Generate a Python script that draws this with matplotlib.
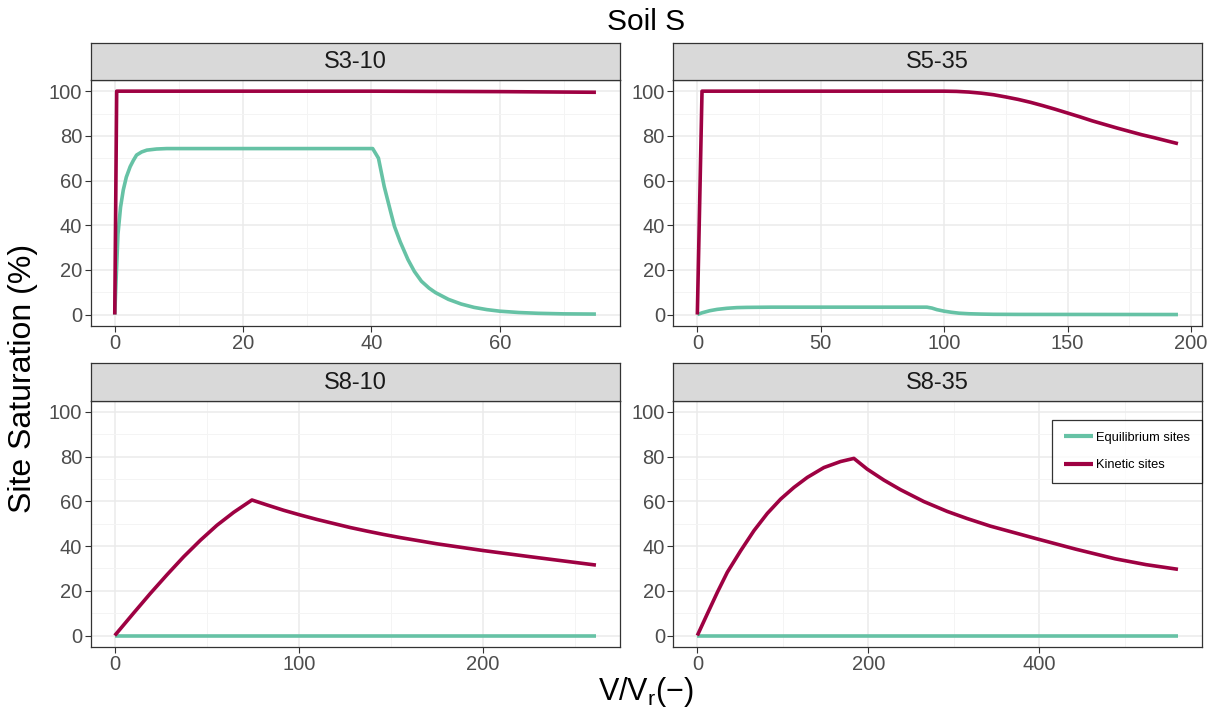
import matplotlib.pyplot as plt
from matplotlib.ticker import MultipleLocator

plt.rcParams['font.family'] = ['Liberation Sans', 'DejaVu Sans']
plt.rcParams['mathtext.fontset'] = 'custom'
plt.rcParams['mathtext.rm'] = 'Liberation Sans'

col_eq = '#66C2A5'
col_kin = '#9E0142'

# S3-10
x_kin_1 = [0, 0.3, 10, 20, 30, 40, 50, 60, 70, 75]
y_kin_1 = [0, 100, 100, 100, 100, 100, 99.9, 99.8, 99.6, 99.5]
x_eq_1 = [0, 0.2, 0.5, 0.9, 1.33, 1.8, 2.4, 2.9, 3.4, 4.2, 5.0, 6.5, 8.1, 20, 30,
          40.2, 41.1, 42.0, 43.0, 43.6, 44.5, 45.7, 46.7, 47.8, 49, 50, 52, 54,
          56, 58, 60, 63, 66, 70, 75]
y_eq_1 = [0, 15, 36, 48, 55.8, 61.5, 66.2, 69, 71.4, 72.8, 73.6, 74.1, 74.3,
          74.3, 74.3, 74.3, 70, 57.3, 46, 39.4, 32.5, 24.6, 19.3, 14.9, 11.8,
          9.8, 6.8, 4.7, 3.2, 2.2, 1.5, 0.9, 0.55, 0.3, 0.2]

# S5-35
x_kin_2 = [0, 1.9, 50, 100, 105, 110, 115, 120, 125, 130, 135, 140, 145, 150,
           155, 160, 165, 170, 175, 180, 185, 190, 194.7]
y_kin_2 = [0, 100, 100, 100, 99.9, 99.6, 99.1, 98.4, 97.4, 96.3, 95, 93.5, 91.9,
           90.2, 88.5, 86.7, 85.1, 83.5, 82, 80.5, 79.2, 77.8, 76.5]
x_eq_2 = [0, 2, 5, 8, 12, 16, 20, 30, 93, 95, 97, 100, 103, 106, 110, 115, 120,
          130, 194.7]
y_eq_2 = [0, 0.8, 1.7, 2.3, 2.8, 3.1, 3.2, 3.3, 3.3, 2.9, 2.2, 1.5, 1.0, 0.6,
          0.35, 0.2, 0.1, 0.05, 0]

# S8-10
x_kin_3 = [0, 10.3, 19.3, 28.4, 37.4, 46.5, 55.5, 64.6, 74.5, 82.6, 91.7, 100.7,
           109.8, 118.8, 127.8, 136.9, 145.9, 155, 175, 200, 225, 245, 261.3]
y_kin_3 = [0, 10.1, 18.8, 27.2, 35.2, 42.6, 49.3, 55.1, 60.6, 58.4, 56, 53.9,
           51.9, 50.1, 48.3, 46.7, 45.2, 43.8, 41.0, 38.0, 35.3, 33.2, 31.5]
x_eq_3 = [0, 100, 200, 261.3]
y_eq_3 = [0, 0, 0, 0]

# S8-35
x_kin_4 = [0, 11.7, 23.4, 35.1, 50.7, 66.3, 81.9, 97.5, 113, 128.7, 148.1, 167.6,
           183.2, 198.8, 218.3, 237.8, 265.1, 292.4, 315.8, 343.1, 396.8, 443,
           489, 525, 562.5]
y_kin_4 = [0, 9.7, 19.3, 28.3, 37.9, 46.9, 54.6, 61.0, 66.2, 70.7, 75.1, 77.8,
           79.2, 74.4, 69.5, 65.2, 59.9, 55.5, 52.3, 48.9, 43.3, 38.6, 34.3, 31.7,
           29.6]
x_eq_4 = [0, 200, 400, 562.5]
y_eq_4 = [0, 0, 0, 0]

panels = [
    ('S3-10', x_eq_1, y_eq_1, x_kin_1, y_kin_1, 20, 10),
    ('S5-35', x_eq_2, y_eq_2, x_kin_2, y_kin_2, 50, 25),
    ('S8-10', x_eq_3, y_eq_3, x_kin_3, y_kin_3, 100, 50),
    ('S8-35', x_eq_4, y_eq_4, x_kin_4, y_kin_4, 200, 100),
]

W, H = 1221, 711
fig = plt.figure(figsize=(W / 100, H / 100), dpi=100)

lefts = [90.7, 673.3]
rights = [620, 1202]
tops = [80, 400.7]
bottoms = [325.7, 646.7]
strip_h = 37.5

for i, (name, xe, ye, xk, yk, major, minor) in enumerate(panels):
    r, c = divmod(i, 2)
    l, rt = lefts[c], rights[c]
    t, b = tops[r], bottoms[r]
    ax = fig.add_axes([l / W, 1 - b / H, (rt - l) / W, (b - t) / H])
    ax.set_facecolor('white')
    ax.plot(xe, ye, color=col_eq, lw=2.6, label='Equilibrium sites',
            solid_capstyle='butt', solid_joinstyle='round', zorder=3)
    ax.plot(xk, yk, color=col_kin, lw=2.6, label='Kinetic sites',
            solid_capstyle='butt', solid_joinstyle='round', zorder=3)
    xmax = max(xk)
    ax.set_xlim(-0.05 * xmax, 1.05 * xmax)
    ax.set_ylim(-5, 105)
    ax.xaxis.set_major_locator(MultipleLocator(major))
    ax.xaxis.set_minor_locator(MultipleLocator(minor))
    ax.yaxis.set_major_locator(MultipleLocator(20))
    ax.yaxis.set_minor_locator(MultipleLocator(10))
    ax.grid(which='major', color='#EBEBEB', lw=1.1, zorder=0)
    ax.grid(which='minor', color='#F4F4F4', lw=0.7, zorder=0)
    ax.set_axisbelow(True)
    for s in ax.spines.values():
        s.set_color('#333333')
        s.set_linewidth(0.9)
    ax.tick_params(which='major', length=4, width=0.8, color='#333333',
                   labelsize=14.5, labelcolor='#4D4D4D', pad=2)
    ax.tick_params(which='minor', length=0)

    sax = fig.add_axes([l / W, 1 - t / H, (rt - l) / W, strip_h / H])
    sax.set_facecolor('#D9D9D9')
    sax.set_xticks([])
    sax.set_yticks([])
    for s in sax.spines.values():
        s.set_color('#333333')
        s.set_linewidth(0.9)
    sax.text(0.5, 0.48, name, ha='center', va='center', fontsize=17,
             color='#1A1A1A', transform=sax.transAxes)

    if i == 3:
        leg = ax.legend(loc='upper right', bbox_to_anchor=(1.0, 0.921),
                        fontsize=9.3, frameon=True, fancybox=False,
                        edgecolor='black', handlelength=2.2, handletextpad=0.3,
                        labelspacing=1.2, borderpad=0.9, borderaxespad=0)
        leg.get_frame().set_linewidth(0.9)
        for line in leg.get_lines():
            line.set_linewidth(3)

fig.text(646 / W, 1 - 22 / H, 'Soil S', ha='center', va='center', fontsize=21.5)
fig.text(646 / W, 1 - 692 / H, r'$\mathrm{V/V_r}(-)$', ha='center',
         va='center', fontsize=22)
fig.text(23 / W, 1 - 378.5 / H, 'Site Saturation (%)', ha='center',
         va='center', rotation=90, fontsize=23)

fig.savefig('out.png', dpi=100)
